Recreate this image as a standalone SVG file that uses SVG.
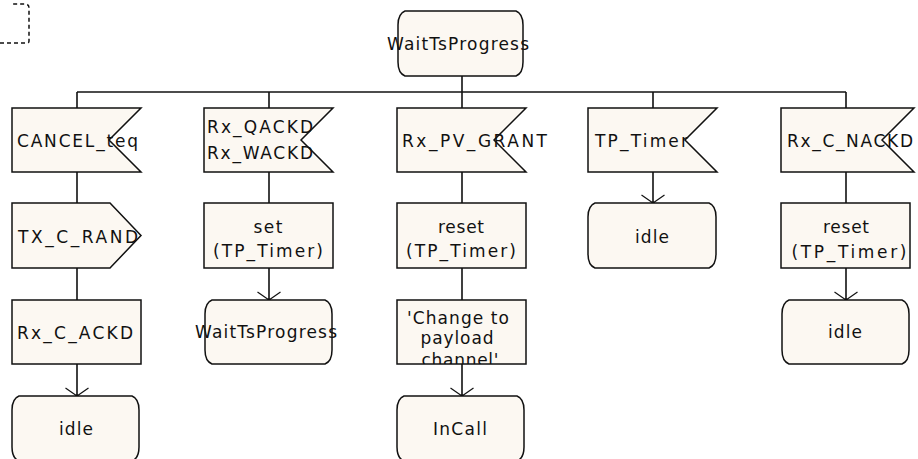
<svg xmlns="http://www.w3.org/2000/svg" width="918" height="459" viewBox="0 0 918 459">
<style>
.shape{fill:#fcf8f2;stroke:#111;stroke-width:1.5;stroke-linejoin:miter}
.conn{fill:none;stroke:#111;stroke-width:1.6}
.t{font-family:"DejaVu Sans","Liberation Sans",sans-serif;font-size:17px;fill:#111}
.m{text-anchor:middle}
.dash{fill:none;stroke:#111;stroke-width:1.5;stroke-dasharray:4 3}
</style>
<defs>
<marker id="arr" markerUnits="userSpaceOnUse" viewBox="-14 -14 16 28" refX="0" refY="0" markerWidth="16" markerHeight="28" orient="auto">
<path d="M-8,-11.5 L0,0 L-8,11.5" fill="none" stroke="#111" stroke-width="1.2"/>
<circle cx="0" cy="0" r="1.8" fill="#111"/>
</marker>
<clipPath id="clipChange"><rect x="397" y="300" width="129" height="64"/></clipPath>
</defs>
<rect width="918" height="459" fill="#ffffff"/>

<g id="comment">
<path class="dash" d="M0,43 H27 Q29,43 29,41 V8 Q29,4 25,4 H12"/>
</g>

<g id="connectors">
<path class="conn" d="M462,76 V108"/>
<path class="conn" d="M77,92 H846"/>
<path class="conn" d="M77,92 V108 M269,92 V108 M653,92 V108 M846,92 V108"/>
<path class="conn" d="M77,172 V203 M77,268 V300"/>
<path class="conn" d="M77,364 V396" marker-end="url(#arr)"/>
<path class="conn" d="M269,172 V203"/>
<path class="conn" d="M269,268 V300" marker-end="url(#arr)"/>
<path class="conn" d="M462,172 V203 M462,268 V300"/>
<path class="conn" d="M462,364 V396" marker-end="url(#arr)"/>
<path class="conn" d="M653,172 V203" marker-end="url(#arr)"/>
<path class="conn" d="M846,172 V203"/>
<path class="conn" d="M846,268 V300" marker-end="url(#arr)"/>
</g>

<g id="state_top">
<path class="shape" d="M405,11 H516 C521,13 523,19 523,25 V62 C523,68 521,74 516,76 H405 C400,74 398,68 398,62 V25 C398,19 400,13 405,11 Z"/>
<text class="t" x="387" y="50" textLength="142" lengthAdjust="spacing">WaitTsProgress</text>
</g>

<g id="in_cancel">
<path class="shape" d="M12,108 H141 L109,140 L141,172 H12 Z"/>
<text class="t" x="17" y="147" textLength="121" lengthAdjust="spacing">CANCEL_teq</text>
</g>
<g id="out_txcrand">
<path class="shape" d="M12,203 H110 L141,235.5 L110,268 H12 Z"/>
<text class="t" x="18" y="243" textLength="120" lengthAdjust="spacing">TX_C_RAND</text>
</g>
<g id="task_rxcackd">
<rect class="shape" x="12" y="300" width="129" height="64"/>
<text class="t" x="17" y="339" textLength="116" lengthAdjust="spacing">Rx_C_ACKD</text>
</g>
<g id="state_idle1">
<path class="shape" d="M19,396 H132 C137,398 139,404 139,410 V447 C139,453 137,459 132,461 H19 C14,459 12,453 12,447 V410 C12,404 14,398 19,396 Z"/>
<text class="t m" x="76" y="435" textLength="34" lengthAdjust="spacing">idle</text>
</g>

<g id="in_qackd">
<path class="shape" d="M204,108 H333 L301,140 L333,172 H204 Z"/>
<text class="t" x="207" y="133" textLength="106" lengthAdjust="spacing">Rx_QACKD</text>
<text class="t" x="207" y="159" textLength="106" lengthAdjust="spacing">Rx_WACKD</text>
</g>
<g id="task_set">
<rect class="shape" x="204" y="203" width="129" height="65"/>
<text class="t m" x="268" y="233" textLength="29" lengthAdjust="spacing">set</text>
<text class="t m" x="268" y="257" textLength="110" lengthAdjust="spacing">(TP_Timer)</text>
</g>
<g id="state_wait2">
<path class="shape" d="M212,300 H325 C330,302 332,308 332,314 V350 C332,356 330,362 325,364 H212 C207,362 205,356 205,350 V314 C205,308 207,302 212,300 Z"/>
<text class="t" x="195" y="338" textLength="142" lengthAdjust="spacing">WaitTsProgress</text>
</g>

<g id="in_pvgrant">
<path class="shape" d="M397,108 H526 L494,140 L526,172 H397 Z"/>
<text class="t" x="402" y="147" textLength="145" lengthAdjust="spacing">Rx_PV_GRANT</text>
</g>
<g id="task_reset3">
<rect class="shape" x="397" y="203" width="129" height="65"/>
<text class="t m" x="461" y="233" textLength="46" lengthAdjust="spacing">reset</text>
<text class="t m" x="461" y="257" textLength="110" lengthAdjust="spacing">(TP_Timer)</text>
</g>
<g id="task_change">
<rect class="shape" x="397" y="300" width="129" height="64"/>
<g clip-path="url(#clipChange)">
<text class="t m" x="458" y="324" textLength="102" lengthAdjust="spacing">'Change to</text>
<text class="t m" x="457" y="344" textLength="73" lengthAdjust="spacing">payload</text>
<text class="t m" x="460" y="366" textLength="77" lengthAdjust="spacing">channel'</text>
</g>
</g>
<g id="state_incall">
<path class="shape" d="M404,396 H517 C522,398 524,404 524,410 V447 C524,453 522,459 517,461 H404 C399,459 397,453 397,447 V410 C397,404 399,398 404,396 Z"/>
<text class="t m" x="460" y="435" textLength="54" lengthAdjust="spacing">InCall</text>
</g>

<g id="in_tptimer">
<path class="shape" d="M588,108 H717 L685,140 L717,172 H588 Z"/>
<text class="t" x="595" y="147" textLength="93" lengthAdjust="spacing">TP_Timer</text>
</g>
<g id="state_idle4">
<path class="shape" d="M595,203 H709 C714,205 716,211 716,217 V254 C716,260 714,266 709,268 H595 C590,266 588,260 588,254 V217 C588,211 590,205 595,203 Z"/>
<text class="t m" x="652" y="243" textLength="34" lengthAdjust="spacing">idle</text>
</g>

<g id="in_cnackd">
<path class="shape" d="M781,108 H914 L882,140 L914,172 H781 Z"/>
<text class="t" x="787" y="147" textLength="126" lengthAdjust="spacing">Rx_C_NACKD</text>
</g>
<g id="task_reset5">
<rect class="shape" x="781" y="203" width="129" height="65"/>
<text class="t m" x="846" y="233" textLength="46" lengthAdjust="spacing">reset</text>
<text class="t m" x="849" y="258" textLength="115" lengthAdjust="spacing">(TP_Timer)</text>
</g>
<g id="state_idle5">
<path class="shape" d="M789,300 H902 C907,302 909,308 909,314 V350 C909,356 907,362 902,364 H789 C784,362 782,356 782,350 V314 C782,308 784,302 789,300 Z"/>
<text class="t m" x="845" y="338" textLength="34" lengthAdjust="spacing">idle</text>
</g>
</svg>
